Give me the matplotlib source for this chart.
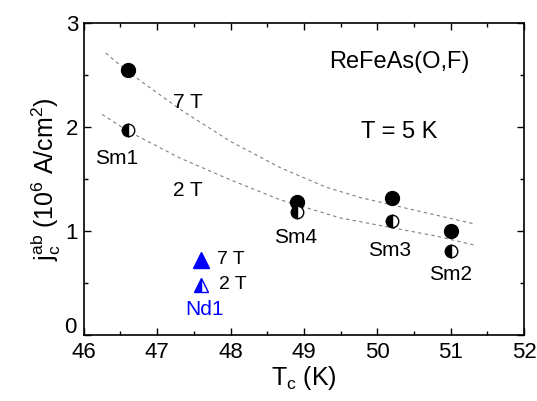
import matplotlib
matplotlib.use("Agg")
import matplotlib.pyplot as plt
from matplotlib.ticker import MultipleLocator

plt.rcParams['font.family'] = ['Liberation Sans', 'DejaVu Sans']
plt.rcParams['mathtext.fontset'] = 'custom'
plt.rcParams['mathtext.rm'] = 'Liberation Sans'
plt.rcParams['mathtext.it'] = 'Liberation Sans'

# Sm samples
samples = ['Sm1', 'Sm4', 'Sm3', 'Sm2']
tc_sm = [46.6, 48.9, 50.2, 51.0]
jc_7t = [2.55, 1.28, 1.32, 1.00]
jc_2t = [1.97, 1.18, 1.09, 0.81]

# Nd sample
tc_nd = [47.6]
jc_nd_7t = [0.72]
jc_nd_2t = [0.48]

# guide-to-eye curves
guide_7t_x = [46.3, 46.6, 47.33, 48.0, 48.67, 49.3, 49.77, 50.5, 51.3]
guide_7t_y = [2.71, 2.53, 2.16, 1.86, 1.61, 1.42, 1.32, 1.20, 1.07]
guide_2t_x = [46.25, 46.6, 47.31, 48.0, 48.67, 49.49, 50.2, 50.8, 51.34]
guide_2t_y = [2.12, 1.96, 1.70, 1.49, 1.30, 1.125, 1.03, 0.95, 0.86]

y_ticks = [0, 1, 2, 3]

fig = plt.figure(figsize=(5.37, 4.01), dpi=100)
ax = fig.add_axes([0.156, 0.165, 0.82, 0.778])

ax.plot(guide_7t_x, guide_7t_y, ls=(0, (3, 3)), color='gray', lw=0.8, zorder=1)
ax.plot(guide_2t_x, guide_2t_y, ls=(0, (3, 3)), color='gray', lw=0.8, zorder=1)

ax.plot(tc_sm, jc_7t, 'o', ms=10, color='black', zorder=3)
ax.plot(tc_sm, jc_2t, 'o', ms=9, color='black', fillstyle='left',
        markerfacecoloralt='white', mew=1.0, zorder=3)

ax.plot(tc_nd, jc_nd_7t, '^', ms=11, color='#0000ff', zorder=3)
ax.plot(tc_nd, jc_nd_2t, '^', ms=10, color='#0000ff', fillstyle='left',
        markerfacecoloralt='white', mew=1.0, zorder=3)

fs = 15
ax.text(47.42, 2.23, '7 T', fontsize=fs, ha='center', va='center')
ax.text(47.42, 1.39, '2 T', fontsize=fs, ha='center', va='center')
label_pos = {'Sm1': (46.45, 1.70), 'Sm4': (48.88, 0.94),
             'Sm3': (50.17, 0.81), 'Sm2': (51.0, 0.58)}
for name in samples:
    x, y = label_pos[name]
    ax.text(x, y, name, fontsize=fs, ha='center', va='center')
ax.text(48.0, 0.72, '7 T', fontsize=14, ha='center', va='center')
ax.text(48.03, 0.48, '2 T', fontsize=14, ha='center', va='center')
ax.text(47.65, 0.24, 'Nd1', fontsize=fs, ha='center', va='center', color='#0000ff')
ax.text(50.3, 2.62, 'ReFeAs(O,F)', fontsize=17, ha='center', va='center')
ax.text(50.3, 1.95, 'T = 5 K', fontsize=17, ha='center', va='center')

ax.set_xlim(46, 52)
ax.set_ylim(0, 3)
ax.xaxis.set_major_locator(MultipleLocator(1))
ax.xaxis.set_minor_locator(MultipleLocator(0.5))
# the "0" label sits a little higher so it clears "46"
ax.set_yticks(y_ticks, [''] + [str(v) for v in y_ticks[1:]])
ax.yaxis.set_minor_locator(MultipleLocator(0.5))
ax.annotate(str(y_ticks[0]), xy=(0, 0), xycoords='axes fraction',
            xytext=(-5.5, 5), textcoords='offset points',
            ha='right', va='center', fontsize=16)
ax.tick_params(which='both', direction='in', top=True, right=True, labelsize=16)
ax.tick_params(axis='x', pad=5)
ax.tick_params(axis='y', pad=4)
ax.tick_params(which='major', length=5, width=1)
ax.tick_params(which='minor', length=3, width=1)
for s in ax.spines.values():
    s.set_linewidth(1.2)

ax.set_xlabel(r'T$_\mathregular{c}$ (K)', fontsize=18, labelpad=1)
ax.set_ylabel(r'j$_\mathregular{c}^\mathregular{ab}$ (10$^\mathregular{6}$ A/cm$^\mathregular{2}$)',
              fontsize=18, labelpad=2)

fig.savefig('out.png', dpi=100)
